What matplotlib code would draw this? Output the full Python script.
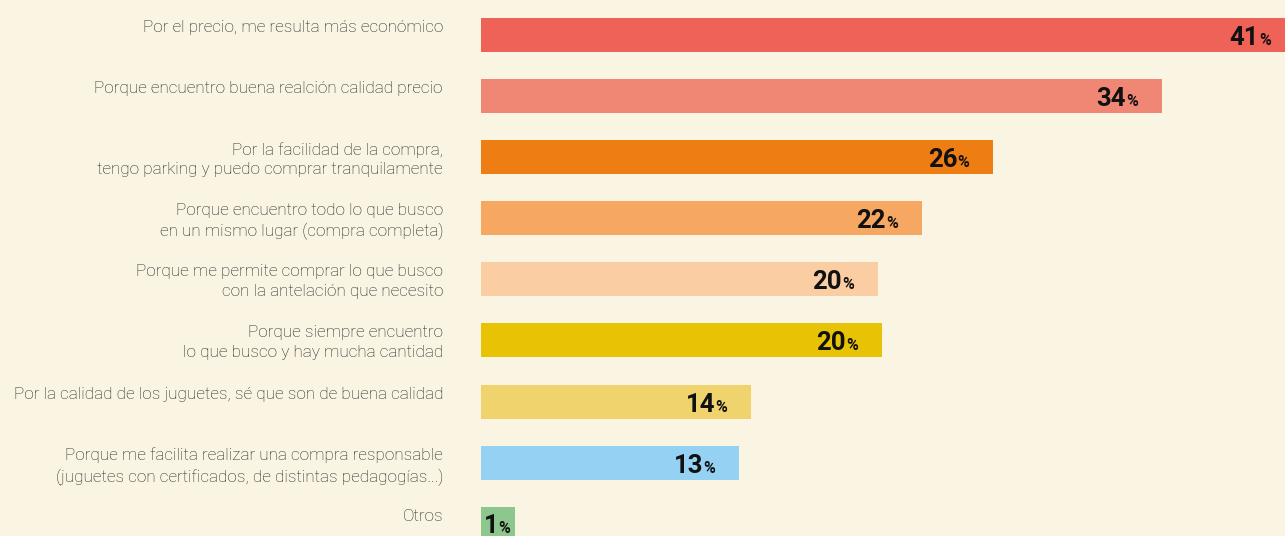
#!/usr/bin/env python3

import matplotlib
matplotlib.use('Agg')
import matplotlib.pyplot as plt

# Reasons for buying, read top to bottom.
reasons = [
        'Por el precio, me resulta más económico',
        'Porque encuentro buena realción calidad precio',
        'Por la facilidad de la compra,\ntengo parking y puedo comprar tranquilamente',
        'Porque encuentro todo lo que busco\nen un mismo lugar (compra completa)',
        'Porque me permite comprar lo que busco\ncon la antelación que necesito',
        'Porque siempre encuentro\nlo que busco y hay mucha cantidad',
        'Por la calidad de los juguetes, sé que son de buena calidad',
        'Porque me facilita realizar una compra responsable\n(juguetes con certificados, de distintas pedagogías...)',
        'Otros',
]
# Bar lengths as measured, and the printed (rounded) labels.
shares = [41.0, 34.3, 25.8, 22.2, 20.0, 20.2, 13.6, 13.0, 1.7]
share_labels = ['41', '34', '26', '22', '20', '20', '14', '13', '1']
colors = [
        '#EE6257', '#F08674', '#EE7D13', '#F6A862', '#FBCDA3',
        '#E8C305', '#F0D36C', '#94D1F3', '#8EC78E',
]

background = '#FAF4E3'
W, H, dpi = 1285, 536, 100
row = 61.1            # pixels between bar centres
first = 35            # pixel centre of the first bar
bar_h = 34 / row

fig = plt.figure(figsize=(W / dpi, H / dpi), dpi=dpi, facecolor=background)
x0 = 481
ax = fig.add_axes([x0 / W, 0, (W - x0) / W, 1])
ax.set_facecolor(background)

px_per_unit = 19.85
ax.set_xlim(0, (W - x0) / px_per_unit)
ax.set_ylim((H - first) / row, -first / row)

ys = list(range(len(shares)))
ax.barh(ys, shares, height=bar_h, color=colors, linewidth=0)

pct_style = dict(fontsize=11.5, family='Roboto', fontweight='bold',
                 color='#111111', annotation_clip=False,
                 textcoords='offset pixels', va='baseline')
num_style = dict(fontsize=18.5, family='Roboto', fontweight='bold',
                 color='#111111', annotation_clip=False,
                 textcoords='offset pixels', va='baseline')

for y, reason, value, label in zip(ys, reasons, shares, share_labels):
    ax.annotate(reason, xy=(0, y - bar_h / 2), xytext=(-38, -2),
                textcoords='offset pixels', ha='right', va='top',
                fontsize=12.3, family='Roboto', fontweight='light',
                color='#222222', linespacing=1.38, annotation_clip=False)

    if value * px_per_unit > 60:
        # Label sits inside the end of the bar.
        ax.annotate('%', xy=(value, y), xytext=(-24, -10), ha='right', **pct_style)
        ax.annotate(label, xy=(value, y), xytext=(-36, -10), ha='right', **num_style)
    else:
        # Bar too short: start the label at the bar's base.
        ax.annotate(label, xy=(0, y), xytext=(3, -9), ha='left', **num_style)
        ax.annotate('%', xy=(0, y), xytext=(17, -9), ha='left', **pct_style)

for spine in ax.spines.values():
    spine.set_visible(False)
ax.set_xticks([])
ax.set_yticks([])

fig.savefig('out.png', dpi=dpi, facecolor=background)
